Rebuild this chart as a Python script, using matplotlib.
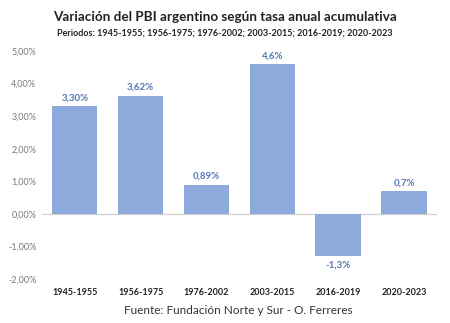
import matplotlib
matplotlib.use("Agg")
import matplotlib.pyplot as plt
from matplotlib.ticker import FuncFormatter

plt.rcParams["font.family"] = ["Lato", "DejaVu Sans"]

periods = ["1945-1955", "1956-1975", "1976-2002", "2003-2015", "2016-2019", "2020-2023"]
growth = [3.30, 3.62, 0.89, 4.6, -1.3, 0.7]
value_labels = ["3,30%", "3,62%", "0,89%", "4,6%", "-1,3%", "0,7%"]

BAR_COLOR = "#8eaadc"
LABEL_COLOR = "#5578b4"

fig = plt.figure(figsize=(4.5, 3.23), dpi=100)
ax = fig.add_axes([0.093, 0.136, 0.878, 0.706])

x = range(len(periods))
bars = ax.bar(x, growth, width=0.69, color=BAR_COLOR, zorder=2)

for rect, val, txt in zip(bars, growth, value_labels):
    cx = rect.get_x() + rect.get_width() / 2
    if val >= 0:
        ax.text(cx, val + 0.12, txt, ha="center", va="bottom", fontsize=7,
                fontweight="bold", color=LABEL_COLOR)
    else:
        ax.text(cx, val - 0.12, txt, ha="center", va="top", fontsize=7,
                fontweight="bold", color=LABEL_COLOR)

ax.set_xlim(-0.5, len(periods) - 0.5)
ax.set_ylim(-2, 5)
ax.set_yticks(range(-2, 6))
ax.yaxis.set_major_formatter(FuncFormatter(lambda v, _: f"{v:.2f}%".replace(".", ",")))
ax.tick_params(axis="y", length=0, labelsize=6.5, labelcolor="#7a7a7a", pad=4)

ax.set_xticks(list(x))
ax.set_xticklabels(periods, fontsize=6.5, fontweight="bold", color="#222222")
ax.tick_params(axis="x", length=0, pad=0)
# put category labels along the bottom of the plot, below the negative range
for lbl in ax.get_xticklabels():
    lbl.set_y(-0.04)

for side in ["top", "right", "left", "bottom"]:
    ax.spines[side].set_visible(False)
ax.axhline(0, color="#d0d0d0", linewidth=0.9, zorder=1)

fig.text(0.5, 0.947, "Variación del PBI argentino según tasa anual acumulativa",
         ha="center", va="center", fontsize=9.7, fontweight="bold", color="#222222")
fig.text(0.5, 0.897, "Periodos: 1945-1955; 1956-1975; 1976-2002; 2003-2015; 2016-2019; 2020-2023",
         ha="center", va="center", fontsize=6.5, fontweight="bold", color="#222222")
fig.text(0.53, 0.04, "Fuente: Fundación Norte y Sur - O. Ferreres",
         ha="center", va="center", fontsize=8.5, color="#333333")

fig.savefig("out.png", dpi=100, facecolor="white")
